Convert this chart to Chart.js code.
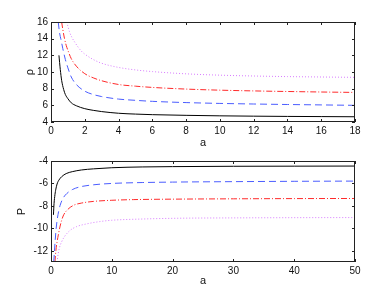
<!DOCTYPE html>
<html>
<head>
<meta charset="utf-8">
<script src="https://cdn.jsdelivr.net/npm/chart.js@4.4.1/dist/chart.umd.min.js"></script>
<style>
  body { margin: 0; background: #fff; width: 391px; height: 294px; overflow: hidden; }
  #wrapTop { position: absolute; left: 0; top: 0; width: 391px; height: 150px; }
  #wrapBottom { position: absolute; left: 0; top: 145px; width: 391px; height: 149px; }
</style>
</head>
<body>
<div id="wrapTop"><canvas id="topChart"></canvas></div>
<div id="wrapBottom"><canvas id="bottomChart"></canvas></div>
<script>
// TOP PANEL: rho vs a
const rhoA1 = [0.47, 0.55, 0.63, 0.75, 0.85, 1.0, 1.2, 1.5, 2.0, 2.5, 3, 4, 5, 6, 8, 10, 12, 14, 16, 18];
const rho1 = [12.0, 10.3, 9.0, 7.9, 7.3, 6.8, 6.3, 5.95, 5.6, 5.4, 5.25, 5.05, 4.95, 4.88, 4.8, 4.74, 4.7, 4.67, 4.65, 4.63];
const rhoA2 = [0.43, 0.5, 0.6, 0.7, 0.85, 1.0, 1.2, 1.5, 2.0, 2.5, 3, 4, 5, 6, 8, 10, 12, 14, 16, 18];
const rho2 = [16, 14.8, 13.8, 12.8, 11.5, 10.5, 9.4, 8.5, 7.7, 7.3, 7.05, 6.75, 6.6, 6.48, 6.33, 6.23, 6.16, 6.1, 6.05, 6.0];
const rhoA3 = [0.63, 0.7, 0.8, 0.9, 1.0, 1.2, 1.5, 2.0, 2.5, 3, 4, 5, 6, 8, 10, 12, 14, 16, 18];
const rho3 = [16, 15.1, 14.0, 13.2, 12.6, 11.6, 10.7, 9.8, 9.3, 8.95, 8.5, 8.3, 8.15, 7.95, 7.82, 7.73, 7.66, 7.6, 7.55];
const rhoA4 = [0.93, 1.0, 1.1, 1.25, 1.4, 1.6, 1.8, 2.0, 2.5, 3, 4, 5, 6, 8, 10, 12, 14, 16, 18];
const rho4 = [16, 15.5, 14.8, 14.1, 13.6, 13.0, 12.5, 12.15, 11.5, 11.05, 10.55, 10.25, 10.05, 9.78, 9.62, 9.52, 9.45, 9.4, 9.36];

// BOTTOM PANEL: P vs a
const pA1 = [0.4, 0.5, 0.65, 0.8, 1.0, 1.3, 1.75, 2.5, 3.5, 5, 7, 10, 15, 20, 30, 40, 50];
const p1 = [-8.8, -7.8, -7.0, -6.5, -6.05, -5.7, -5.4, -5.12, -4.95, -4.8, -4.7, -4.6, -4.53, -4.5, -4.47, -4.46, -4.45];
const pA2 = [0.45, 0.55, 0.7, 0.85, 1.0, 1.25, 1.5, 2.0, 2.6, 3.5, 4.8, 7, 10, 15, 20, 30, 40, 50];
const p2 = [-13, -12.2, -11.0, -10.0, -9.3, -8.5, -7.95, -7.3, -6.9, -6.55, -6.3, -6.12, -6.0, -5.92, -5.88, -5.84, -5.81, -5.79];
const pA3 = [0.65, 0.8, 1.0, 1.2, 1.5, 2.0, 2.7, 3.7, 5, 7, 10, 13.6, 20, 30, 40, 50];
const p3 = [-13, -12.0, -11.2, -10.6, -9.8, -8.9, -8.35, -7.95, -7.75, -7.6, -7.5, -7.44, -7.4, -7.37, -7.35, -7.34];
const pA4 = [1.0, 1.2, 1.4, 1.75, 2.2, 3.1, 4.2, 5.9, 8, 10, 15, 21, 30, 40, 50];
const p4 = [-13, -12.2, -11.7, -11.2, -10.75, -10.2, -9.85, -9.6, -9.4, -9.28, -9.17, -9.1, -9.07, -9.05, -9.04];

const lineColors = ["#000000", "#4a5cff", "#ff2a2a", "#d77bff"];
const lineDashes = [[], [7, 4], [6, 2, 1, 2], [1, 2]];

const FONT = "'Liberation Sans', Arial, sans-serif";

function pts(xs, ys) {
  return xs.map((x, i) => ({ x: x, y: ys[i] }));
}

function makeSets(series) {
  return series.map((s, i) => ({
    data: pts(s[0], s[1]),
    borderColor: lineColors[i],
    borderWidth: 1,
    borderDash: lineDashes[i],
    pointRadius: 0,
    cubicInterpolationMode: "monotone",
    fill: false,
  }));
}

// box around the plot with inward ticks, matlab style
const boxPlugin = {
  id: "box",
  afterDraw(chart) {
    const { ctx, chartArea: a, scales } = chart;
    ctx.save();
    ctx.strokeStyle = "#222";
    ctx.lineWidth = 1;
    ctx.strokeRect(a.left + 0.5, a.top + 0.5, a.right - a.left - 1, a.bottom - a.top - 1);
    ctx.beginPath();
    scales.x.ticks.forEach((t) => {
      const px = Math.round(scales.x.getPixelForValue(t.value)) + 0.5;
      ctx.moveTo(px, a.bottom);
      ctx.lineTo(px, a.bottom - 3);
      ctx.moveTo(px, a.top);
      ctx.lineTo(px, a.top + 3);
    });
    scales.y.ticks.forEach((t) => {
      const py = Math.round(scales.y.getPixelForValue(t.value)) + 0.5;
      ctx.moveTo(a.left, py);
      ctx.lineTo(a.left + 3, py);
      ctx.moveTo(a.right, py);
      ctx.lineTo(a.right - 3, py);
    });
    ctx.stroke();
    ctx.restore();
  },
};

function buildChart(id, series, xOpt, yOpt, pad, yTitlePad, xHeight, xTitlePad, yTitle) {
  const ctx = document.getElementById(id).getContext("2d");
  return new Chart(ctx, {
    type: "line",
    data: { datasets: makeSets(series) },
    options: {
      responsive: true,
      maintainAspectRatio: false,
      animation: false,
      layout: { padding: pad },
      plugins: { legend: { display: false }, tooltip: { enabled: false } },
      scales: {
        x: {
          type: "linear",
          min: xOpt.min,
          max: xOpt.max,
          grid: { display: false, drawTicks: false },
          border: { display: false },
          ticks: { stepSize: xOpt.step, padding: 3, color: "#111", font: { family: FONT, size: 10 }, maxRotation: 0 },
          title: { display: true, text: "a", color: "#111", font: { family: FONT, size: 11 }, padding: { top: 0, bottom: xTitlePad } },
          afterFit(scale) { scale.height = xHeight; },
        },
        y: {
          min: yOpt.min,
          max: yOpt.max,
          grid: { display: false, drawTicks: false },
          border: { display: false },
          ticks: { stepSize: 2, padding: 3, color: "#111", font: { family: FONT, size: 10 } },
          afterBuildTicks(scale) {
            scale.ticks = yOpt.ticks.map((v) => ({ value: v }));
          },
          title: { display: true, text: yTitle, color: "#111", font: { family: FONT, size: 11 }, padding: { top: yTitlePad, bottom: 0 } },
          afterFit(scale) { scale.width = 51; },
        },
      },
    },
    plugins: [boxPlugin],
  });
}

const rhoTicks = [4, 6, 8, 10, 12, 14, 16];
const pTicks = [-12, -10, -8, -6, -4];

buildChart(
  "topChart",
  [[rhoA1, rho1], [rhoA2, rho2], [rhoA3, rho3], [rhoA4, rho4]],
  { min: 0, max: 18, step: 2 },
  { min: 4, max: 16, ticks: rhoTicks },
  { top: 22, right: 36, left: 0, bottom: 0 },
  23, 28, 0, "ρ"
);

buildChart(
  "bottomChart",
  [[pA1, p1], [pA2, p2], [pA3, p3], [pA4, p4]],
  { min: 0, max: 50, step: 10 },
  { min: -13, max: -4, ticks: pTicks },
  { top: 16, right: 36, left: 0, bottom: 0 },
  15, 32, 6, "P"
);
</script>
</body>
</html>
